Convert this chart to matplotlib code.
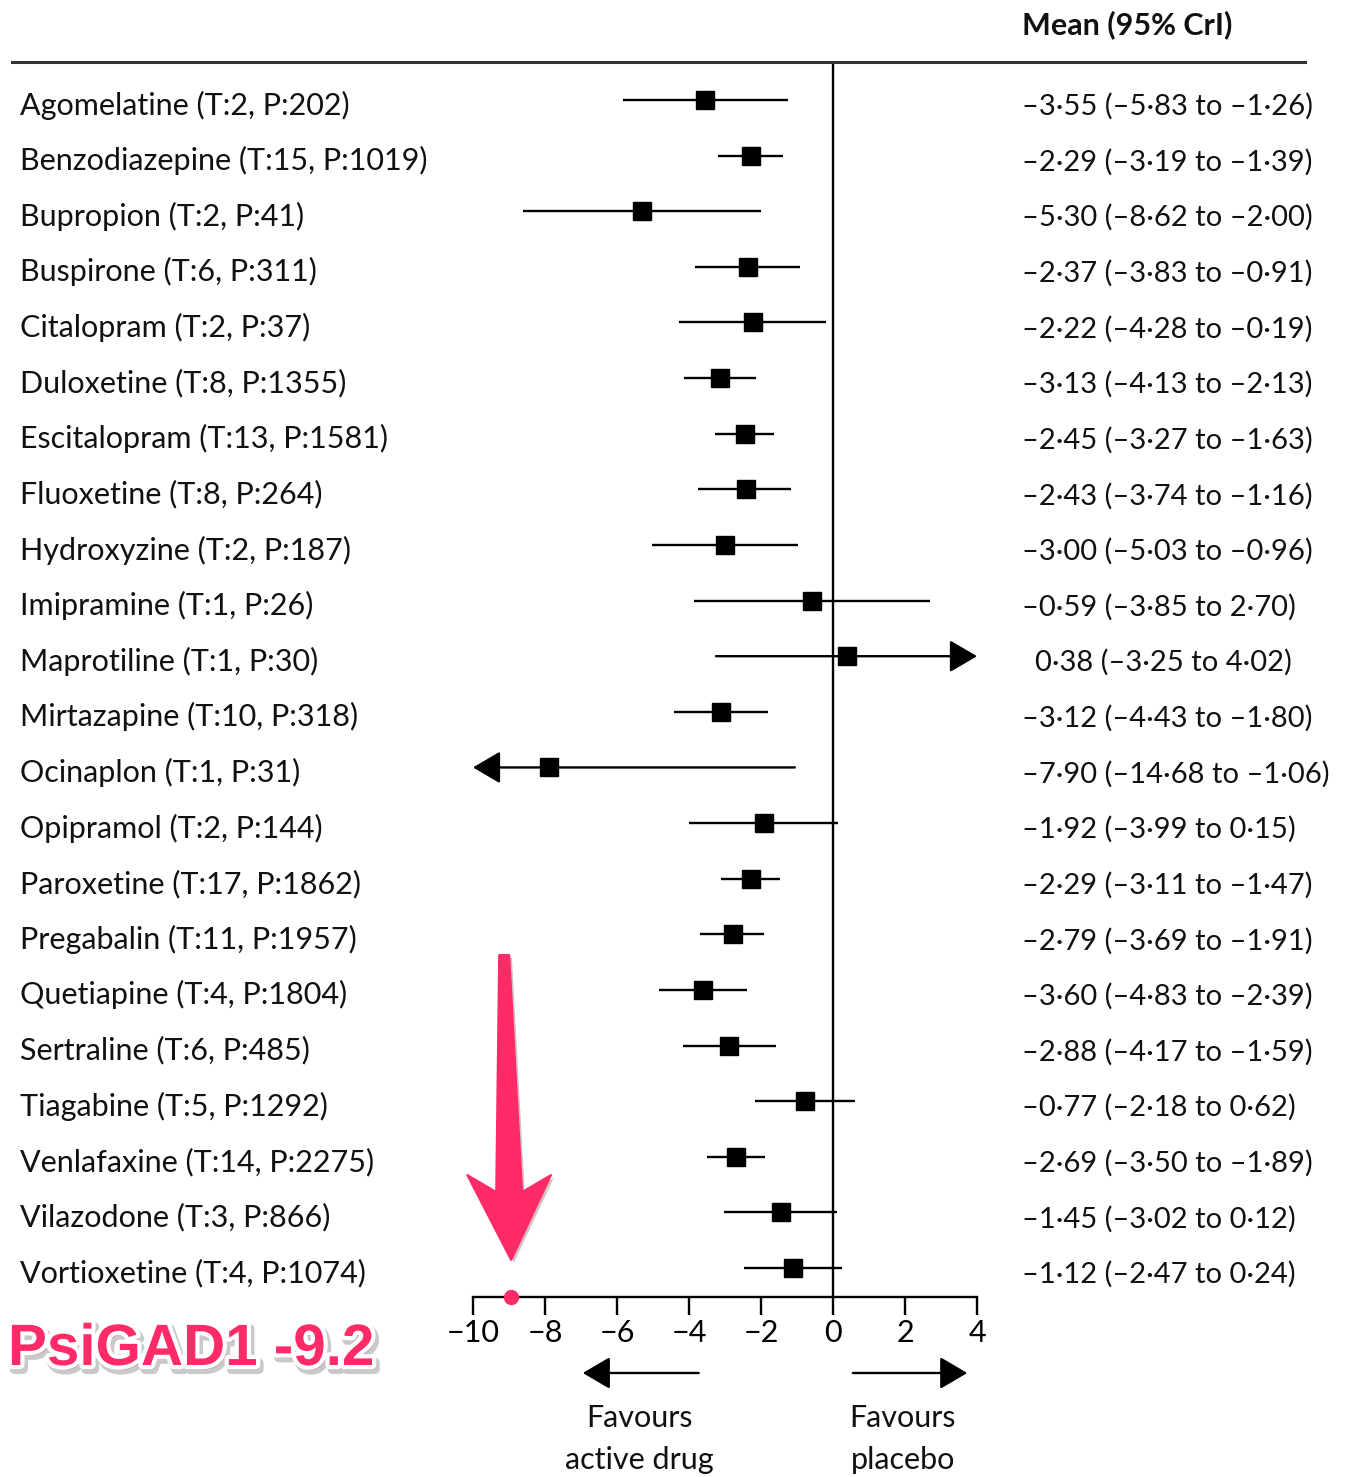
import matplotlib
matplotlib.use("Agg")
import matplotlib.pyplot as plt
import matplotlib.patheffects as pe
from matplotlib.lines import Line2D
from matplotlib.patches import Polygon
from matplotlib.transforms import blended_transform_factory

# ---------------- data ----------------
drugs = ["Agomelatine", "Benzodiazepine", "Bupropion", "Buspirone", "Citalopram",
         "Duloxetine", "Escitalopram", "Fluoxetine", "Hydroxyzine", "Imipramine",
         "Maprotiline", "Mirtazapine", "Ocinaplon", "Opipramol", "Paroxetine",
         "Pregabalin", "Quetiapine", "Sertraline", "Tiagabine", "Venlafaxine",
         "Vilazodone", "Vortioxetine"]
trials = [2, 15, 2, 6, 2, 8, 13, 8, 2, 1, 1, 10, 1, 2, 17, 11, 4, 6, 5, 14, 3, 4]
patients = [202, 1019, 41, 311, 37, 1355, 1581, 264, 187, 26, 30, 318, 31, 144,
            1862, 1957, 1804, 485, 1292, 2275, 866, 1074]
means = [-3.55, -2.29, -5.30, -2.37, -2.22, -3.13, -2.45, -2.43, -3.00, -0.59,
         0.38, -3.12, -7.90, -1.92, -2.29, -2.79, -3.60, -2.88, -0.77, -2.69,
         -1.45, -1.12]
lows = [-5.83, -3.19, -8.62, -3.83, -4.28, -4.13, -3.27, -3.74, -5.03, -3.85,
        -3.25, -4.43, -14.68, -3.99, -3.11, -3.69, -4.83, -4.17, -2.18, -3.50,
        -3.02, -2.47]
highs = [-1.26, -1.39, -2.00, -0.91, -0.19, -2.13, -1.63, -1.16, -0.96, 2.70,
         4.02, -1.80, -1.06, 0.15, -1.47, -1.91, -2.39, -1.59, 0.62, -1.89,
         0.12, 0.24]
x_ticks = [-10, -8, -6, -4, -2, 0, 2, 4]
x_min, x_max = -10, 4
header = "Mean (95% CrI)"
psigad_label = "PsiGAD1 -9.2"
psigad_x = -8.94

# ---------------- layout helpers ----------------
W, H = 1347, 1477
fig = plt.figure(figsize=(W / 100, H / 100), dpi=100)
plt.rcParams['font.family'] = ['Lato', 'DejaVu Sans']
plt.rcParams['axes.unicode_minus'] = True

def fx(px):
    return px / W

def fy(py):
    return 1 - py / H

PINK = '#FF2B68'
FS = 22
FS_CI = 21
row0, step = 100.0, 55.62
ax_top_px, ax_bot_px = 62, 1297
txt_off = 5 / step

ax = fig.add_axes([fx(473), fy(ax_bot_px), fx(977) - fx(473), fy(ax_top_px) - fy(ax_bot_px)])
ax.set_xlim(x_min, x_max)
y_bottom = (ax_bot_px - row0) / step
y_top = -(row0 - ax_top_px) / step
ax.set_ylim(y_bottom, y_top)
ax.patch.set_visible(False)

def fmt(v):
    s = f"{abs(v):.2f}".replace('.', '\u00b7')
    return ('\u2013' if v < 0 else '') + s

lw = 1.7
arrow_kw = dict(arrowstyle='-|>,head_length=0.85,head_width=0.5', mutation_scale=20,
                lw=lw, color='black', shrinkA=0, shrinkB=0)

for i, (m, lo, hi) in enumerate(zip(means, lows, highs)):
    if hi > x_max:
        ax.annotate('', xy=(x_max, i), xytext=(max(lo, x_min), i), arrowprops=arrow_kw,
                    annotation_clip=False)
    elif lo < x_min:
        ax.annotate('', xy=(x_min, i), xytext=(min(hi, x_max), i), arrowprops=arrow_kw,
                    annotation_clip=False)
    else:
        ax.plot([lo, hi], [i, i], color='black', lw=lw, solid_capstyle='butt')
    ax.plot(m, i, 's', color='black', ms=13, zorder=4)

ax.axvline(0, color='black', lw=lw)

for s in ['top', 'left', 'right']:
    ax.spines[s].set_visible(False)
ax.spines['bottom'].set_linewidth(lw)
ax.set_yticks([])
ax.set_xticks(x_ticks)
ax.tick_params(axis='x', direction='out', length=13, width=lw, labelsize=FS, pad=3)

# row texts
trans = blended_transform_factory(fig.transFigure, ax.transData)
for i, (d, t, p, m, lo, hi) in enumerate(zip(drugs, trials, patients, means, lows, highs)):
    ax.text(fx(20), i + txt_off, f"{d} (T:{t}, P:{p})", transform=trans, ha='left',
            va='center', fontsize=FS, color='#111')
    ci = f"{fmt(m)} ({fmt(lo)} to {fmt(hi)})"
    xpos = 1022 if m < 0 else 1035
    ax.text(fx(xpos), i + 1.3 * txt_off, ci, transform=trans, ha='left', va='center',
            fontsize=FS_CI, color='#111')

# header
fig.text(fx(1022), fy(25), header, ha='left', va='center', fontsize=FS, fontweight='bold',
         color='#111')
fig.add_artist(Line2D([fx(12), fx(1305)], [fy(62), fy(62)], transform=fig.transFigure,
                      color='#333', lw=2.2))

# favours arrows and text
def ry(py):
    return (py - row0) / step

ax.annotate('', xy=(-6.95, ry(1373)), xytext=(-3.73, ry(1373)), arrowprops=arrow_kw,
            annotation_clip=False)
ax.annotate('', xy=(3.73, ry(1373)), xytext=(0.55, ry(1373)), arrowprops=arrow_kw,
            annotation_clip=False)
ax.text(-5.37, ry(1418), "Favours", ha='center', va='center', fontsize=FS, color='#111')
ax.text(-5.37, ry(1460), "active drug", ha='center', va='center', fontsize=FS, color='#111')
ax.text(1.94, ry(1418), "Favours", ha='center', va='center', fontsize=FS, color='#111')
ax.text(1.94, ry(1460), "placebo", ha='center', va='center', fontsize=FS, color='#111')

# pink annotation arrow
ux, uy = 1 / 36.1, 1 / step
cx_top, cx_head = psigad_x - 7 * ux, psigad_x - 2 * ux
y_t, y_hb, y_sj, y_tip = ry(955), ry(1175), ry(1192), ry(1260)
pts = [(cx_top - 5 * ux, y_t), (cx_top + 5 * ux, y_t),
       (cx_head + 13 * ux, y_sj), (cx_head + 42 * ux, y_hb),
       (psigad_x, y_tip),
       (cx_head - 42 * ux, y_hb), (cx_head - 13 * ux, y_sj)]
arr = Polygon(pts, closed=True, facecolor=PINK, edgecolor=PINK, lw=1.5, clip_on=False,
              zorder=5, joinstyle='round',
              path_effects=[pe.SimplePatchShadow(offset=(2, -2), alpha=0.25), pe.Normal()])
ax.add_patch(arr)

ax.plot(psigad_x, y_bottom, 'o', color=PINK, ms=10, clip_on=False, zorder=6)

fig.text(fx(8), fy(1350), psigad_label, ha='left', va='center', fontsize=42,
         fontweight='bold', family=['Liberation Sans', 'DejaVu Sans'], color=PINK,
         path_effects=[pe.Stroke(offset=(2, -3), linewidth=7, foreground='#888', alpha=0.45),
                       pe.Stroke(linewidth=6, foreground='white'), pe.Normal()])

fig.savefig("out.png", dpi=100)
